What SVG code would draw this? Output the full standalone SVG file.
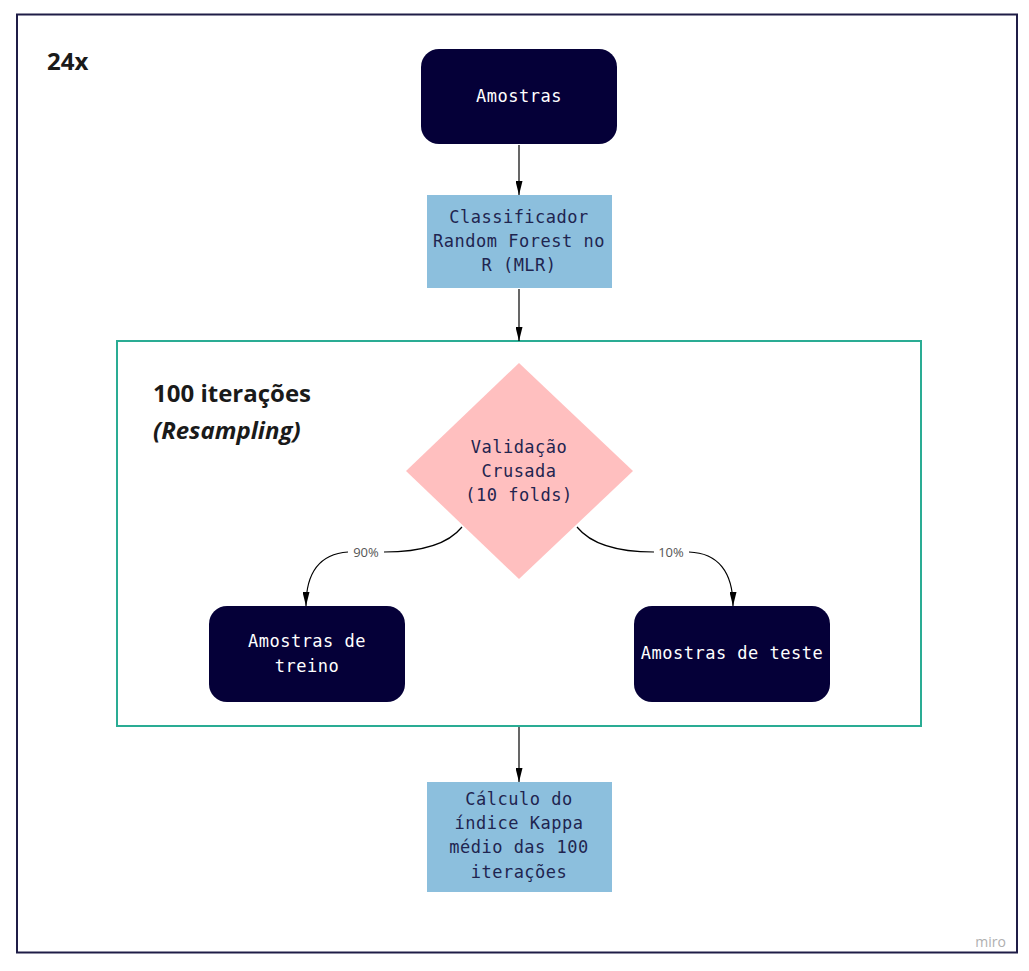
<svg xmlns="http://www.w3.org/2000/svg" width="1029" height="971" viewBox="0 0 1029 971">
<defs>
<marker id="arr" viewBox="0 0 14 7" refX="14" refY="3.5" markerWidth="14" markerHeight="7" markerUnits="userSpaceOnUse" orient="auto">
<path d="M0,0 L14,3.5 L0,7 Z" fill="#000"/>
</marker>
<style>
.mono{font-family:"DejaVu Sans Mono","Liberation Mono",monospace;font-size:17px;letter-spacing:0.5px;text-anchor:middle}
.dark{fill:#050038}
.blue{fill:#8cbfdd}
.tw{fill:#ffffff}
.tn{fill:#1f2550}
.title{font-family:"Open Sans","Noto Sans",sans-serif;font-weight:bold;font-size:24px;fill:#1a1a1a}
.lbl{font-family:"Open Sans","Noto Sans",sans-serif;font-size:13px;fill:#555;text-anchor:middle}
.conn{fill:none;stroke:#000;stroke-width:1.2}
</style>
</defs>
<rect width="1029" height="971" fill="#ffffff"/>
<rect x="17" y="14.5" width="1000" height="938" fill="#ffffff" stroke="#1f1d47" stroke-width="2"/>
<text class="title" x="47" y="70">24x</text>
<g id="loop">
<rect x="117" y="341" width="804" height="385" fill="none" stroke="#2aac94" stroke-width="2"/>
<text class="title" x="153" y="402">100 iterações</text>
<text class="title" x="153" y="439" font-style="italic">(Resampling)</text>
</g>
<g id="connectors">
<line class="conn" x1="519" y1="145" x2="519" y2="195" marker-end="url(#arr)"/>
<line class="conn" x1="519" y1="289" x2="519" y2="341" marker-end="url(#arr)"/>
<path class="conn" d="M462,527 C445,548 410,552 384,552 M348,552 C320,554 306,572 306,606" marker-end="url(#arr)"/>
<path class="conn" d="M577,527 C594,548 628,552 654,552 M689,552 C718,553 733,572 733,606" marker-end="url(#arr)"/>
<line class="conn" x1="519" y1="727" x2="519" y2="782" marker-end="url(#arr)"/>
<text class="lbl" x="366" y="557">90%</text>
<text class="lbl" x="671" y="557">10%</text>
</g>
<g id="amostras">
<rect class="dark" x="421" y="49" width="196" height="95" rx="18"/>
<text class="mono tw" x="519" y="102">Amostras</text>
</g>
<g id="classificador">
<rect class="blue" x="427" y="195" width="185" height="93"/>
<text class="mono tn" x="519" y="223">Classificador</text>
<text class="mono tn" x="519" y="247">Random Forest no</text>
<text class="mono tn" x="519" y="271">R (MLR)</text>
</g>
<g id="validacao">
<polygon points="519,363 633,471 519,579 406,471" fill="#ffbfbf"/>
<text class="mono tn" x="519" y="453">Validação</text>
<text class="mono tn" x="519" y="477">Crusada</text>
<text class="mono tn" x="519" y="501">(10 folds)</text>
</g>
<g id="treino">
<rect class="dark" x="209" y="606" width="196" height="96" rx="18"/>
<text class="mono tw" x="307" y="647">Amostras de</text>
<text class="mono tw" x="307" y="672">treino</text>
</g>
<g id="teste">
<rect class="dark" x="634" y="606" width="196" height="96" rx="18"/>
<text class="mono tw" x="732" y="659">Amostras de teste</text>
</g>
<g id="kappa">
<rect class="blue" x="427" y="782" width="185" height="110"/>
<text class="mono tn" x="519" y="805">Cálculo do</text>
<text class="mono tn" x="519" y="829">índice Kappa</text>
<text class="mono tn" x="519" y="853">médio das 100</text>
<text class="mono tn" x="519" y="878">iterações</text>
</g>
<text x="1006" y="947" font-family="Open Sans,Noto Sans,sans-serif" font-size="14" fill="#b0b0b0" text-anchor="end">miro</text>
</svg>
